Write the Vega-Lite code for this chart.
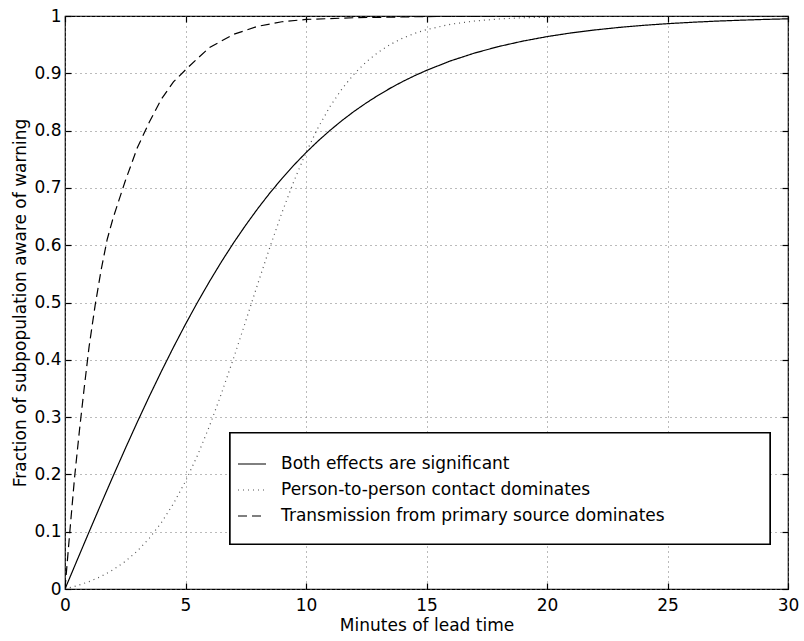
{
  "$schema": "https://vega.github.io/schema/vega-lite/v6.json",
  "autosize": "none",
  "width": 723,
  "height": 573,
  "padding": {"left": 65, "top": 16, "right": 16, "bottom": 52},
  "background": "white",
  "config": {
    "font": "DejaVu Sans",
    "view": {"stroke": "black", "strokeWidth": 1.2},
    "axis": {
      "labelFont": "DejaVu Sans", "labelFontSize": 17, "labelColor": "black",
      "titleFont": "DejaVu Sans", "titleFontSize": 17, "titleFontWeight": "normal", "titleColor": "black",
      "domain": false, "tickColor": "black", "tickSize": -6, "tickWidth": 1.2,
      "gridColor": "#777", "gridDash": [1, 4], "gridWidth": 1, "gridOpacity": 1
    },
    "legend": {
      "labelFont": "DejaVu Sans", "labelFontSize": 17, "labelColor": "black", "labelLimit": 0
    }
  },
  "datasets": {
    "curves": [
      {"t": 0, "y": 0, "s": "Both effects are significant"},
      {"t": 0.5, "y": 0.05, "s": "Both effects are significant"},
      {"t": 1, "y": 0.0997, "s": "Both effects are significant"},
      {"t": 1.5, "y": 0.1489, "s": "Both effects are significant"},
      {"t": 2, "y": 0.1974, "s": "Both effects are significant"},
      {"t": 2.5, "y": 0.2449, "s": "Both effects are significant"},
      {"t": 3, "y": 0.2913, "s": "Both effects are significant"},
      {"t": 3.5, "y": 0.3364, "s": "Both effects are significant"},
      {"t": 4, "y": 0.3799, "s": "Both effects are significant"},
      {"t": 4.5, "y": 0.4219, "s": "Both effects are significant"},
      {"t": 5, "y": 0.4621, "s": "Both effects are significant"},
      {"t": 5.5, "y": 0.5005, "s": "Both effects are significant"},
      {"t": 6, "y": 0.537, "s": "Both effects are significant"},
      {"t": 6.5, "y": 0.5717, "s": "Both effects are significant"},
      {"t": 7, "y": 0.6044, "s": "Both effects are significant"},
      {"t": 7.5, "y": 0.6351, "s": "Both effects are significant"},
      {"t": 8, "y": 0.664, "s": "Both effects are significant"},
      {"t": 8.5, "y": 0.6911, "s": "Both effects are significant"},
      {"t": 9, "y": 0.7163, "s": "Both effects are significant"},
      {"t": 9.5, "y": 0.7398, "s": "Both effects are significant"},
      {"t": 10, "y": 0.7616, "s": "Both effects are significant"},
      {"t": 10.5, "y": 0.7818, "s": "Both effects are significant"},
      {"t": 11, "y": 0.8005, "s": "Both effects are significant"},
      {"t": 11.5, "y": 0.8178, "s": "Both effects are significant"},
      {"t": 12, "y": 0.8337, "s": "Both effects are significant"},
      {"t": 12.5, "y": 0.8483, "s": "Both effects are significant"},
      {"t": 13, "y": 0.8617, "s": "Both effects are significant"},
      {"t": 13.5, "y": 0.8741, "s": "Both effects are significant"},
      {"t": 14, "y": 0.8854, "s": "Both effects are significant"},
      {"t": 14.5, "y": 0.8957, "s": "Both effects are significant"},
      {"t": 15, "y": 0.9051, "s": "Both effects are significant"},
      {"t": 16, "y": 0.9217, "s": "Both effects are significant"},
      {"t": 17, "y": 0.9354, "s": "Both effects are significant"},
      {"t": 18, "y": 0.9468, "s": "Both effects are significant"},
      {"t": 19, "y": 0.9562, "s": "Both effects are significant"},
      {"t": 20, "y": 0.964, "s": "Both effects are significant"},
      {"t": 21, "y": 0.9705, "s": "Both effects are significant"},
      {"t": 22, "y": 0.9757, "s": "Both effects are significant"},
      {"t": 23, "y": 0.9801, "s": "Both effects are significant"},
      {"t": 24, "y": 0.9837, "s": "Both effects are significant"},
      {"t": 25, "y": 0.9866, "s": "Both effects are significant"},
      {"t": 26, "y": 0.989, "s": "Both effects are significant"},
      {"t": 27, "y": 0.991, "s": "Both effects are significant"},
      {"t": 28, "y": 0.9926, "s": "Both effects are significant"},
      {"t": 29, "y": 0.994, "s": "Both effects are significant"},
      {"t": 30, "y": 0.9951, "s": "Both effects are significant"},

      {"t": 0, "y": 0, "s": "Person-to-person contact dominates"},
      {"t": 0.5, "y": 0.0057, "s": "Person-to-person contact dominates"},
      {"t": 1, "y": 0.0129, "s": "Person-to-person contact dominates"},
      {"t": 1.5, "y": 0.022, "s": "Person-to-person contact dominates"},
      {"t": 2, "y": 0.0336, "s": "Person-to-person contact dominates"},
      {"t": 2.5, "y": 0.0481, "s": "Person-to-person contact dominates"},
      {"t": 3, "y": 0.0662, "s": "Person-to-person contact dominates"},
      {"t": 3.5, "y": 0.0886, "s": "Person-to-person contact dominates"},
      {"t": 4, "y": 0.116, "s": "Person-to-person contact dominates"},
      {"t": 4.5, "y": 0.1489, "s": "Person-to-person contact dominates"},
      {"t": 5, "y": 0.188, "s": "Person-to-person contact dominates"},
      {"t": 5.5, "y": 0.2334, "s": "Person-to-person contact dominates"},
      {"t": 6, "y": 0.2849, "s": "Person-to-person contact dominates"},
      {"t": 6.5, "y": 0.3422, "s": "Person-to-person contact dominates"},
      {"t": 7, "y": 0.4036, "s": "Person-to-person contact dominates"},
      {"t": 7.5, "y": 0.4678, "s": "Person-to-person contact dominates"},
      {"t": 8, "y": 0.5327, "s": "Person-to-person contact dominates"},
      {"t": 8.5, "y": 0.5963, "s": "Person-to-person contact dominates"},
      {"t": 9, "y": 0.6566, "s": "Person-to-person contact dominates"},
      {"t": 9.5, "y": 0.712, "s": "Person-to-person contact dominates"},
      {"t": 10, "y": 0.7616, "s": "Person-to-person contact dominates"},
      {"t": 10.5, "y": 0.805, "s": "Person-to-person contact dominates"},
      {"t": 11, "y": 0.8422, "s": "Person-to-person contact dominates"},
      {"t": 11.5, "y": 0.8733, "s": "Person-to-person contact dominates"},
      {"t": 12, "y": 0.899, "s": "Person-to-person contact dominates"},
      {"t": 12.5, "y": 0.9199, "s": "Person-to-person contact dominates"},
      {"t": 13, "y": 0.9368, "s": "Person-to-person contact dominates"},
      {"t": 13.5, "y": 0.9504, "s": "Person-to-person contact dominates"},
      {"t": 14, "y": 0.9611, "s": "Person-to-person contact dominates"},
      {"t": 14.5, "y": 0.9696, "s": "Person-to-person contact dominates"},
      {"t": 15, "y": 0.9762, "s": "Person-to-person contact dominates"},
      {"t": 16, "y": 0.9856, "s": "Person-to-person contact dominates"},
      {"t": 17, "y": 0.9913, "s": "Person-to-person contact dominates"},
      {"t": 18, "y": 0.9948, "s": "Person-to-person contact dominates"},
      {"t": 19, "y": 0.9969, "s": "Person-to-person contact dominates"},
      {"t": 20, "y": 0.9981, "s": "Person-to-person contact dominates"},
      {"t": 22, "y": 0.9993, "s": "Person-to-person contact dominates"},
      {"t": 24, "y": 0.9998, "s": "Person-to-person contact dominates"},
      {"t": 26, "y": 0.9999, "s": "Person-to-person contact dominates"},
      {"t": 30, "y": 1, "s": "Person-to-person contact dominates"},

      {"t": 0, "y": 0, "s": "Transmission from primary source dominates"},
      {"t": 0.2, "y": 0.1, "s": "Transmission from primary source dominates"},
      {"t": 0.4, "y": 0.196, "s": "Transmission from primary source dominates"},
      {"t": 0.6, "y": 0.277, "s": "Transmission from primary source dominates"},
      {"t": 0.8, "y": 0.352, "s": "Transmission from primary source dominates"},
      {"t": 1, "y": 0.423, "s": "Transmission from primary source dominates"},
      {"t": 1.25, "y": 0.495, "s": "Transmission from primary source dominates"},
      {"t": 1.5, "y": 0.557, "s": "Transmission from primary source dominates"},
      {"t": 1.75, "y": 0.61, "s": "Transmission from primary source dominates"},
      {"t": 2, "y": 0.648, "s": "Transmission from primary source dominates"},
      {"t": 2.5, "y": 0.712, "s": "Transmission from primary source dominates"},
      {"t": 3, "y": 0.77, "s": "Transmission from primary source dominates"},
      {"t": 3.5, "y": 0.815, "s": "Transmission from primary source dominates"},
      {"t": 4, "y": 0.855, "s": "Transmission from primary source dominates"},
      {"t": 4.5, "y": 0.885, "s": "Transmission from primary source dominates"},
      {"t": 5, "y": 0.906, "s": "Transmission from primary source dominates"},
      {"t": 5.5, "y": 0.926, "s": "Transmission from primary source dominates"},
      {"t": 6, "y": 0.945, "s": "Transmission from primary source dominates"},
      {"t": 7, "y": 0.968, "s": "Transmission from primary source dominates"},
      {"t": 8, "y": 0.982, "s": "Transmission from primary source dominates"},
      {"t": 9, "y": 0.99, "s": "Transmission from primary source dominates"},
      {"t": 10, "y": 0.994, "s": "Transmission from primary source dominates"},
      {"t": 12, "y": 0.997, "s": "Transmission from primary source dominates"},
      {"t": 15, "y": 0.999, "s": "Transmission from primary source dominates"},
      {"t": 20, "y": 1, "s": "Transmission from primary source dominates"},
      {"t": 30, "y": 1, "s": "Transmission from primary source dominates"}
    ]
  },
  "data": {"name": "curves"},
  "layer": [
    {
      "mark": {"type": "line", "strokeWidth": 1.2, "clip": true},
      "encoding": {
        "x": {
          "field": "t", "type": "quantitative",
          "scale": {"domain": [0, 30], "nice": false, "zero": false},
          "axis": {
            "orient": "bottom", "title": "Minutes of lead time",
            "values": [0, 5, 10, 15, 20, 25, 30],
            "labelPadding": 14, "titlePadding": 4, "labelFlush": false
          }
        },
        "y": {
          "field": "y", "type": "quantitative",
          "scale": {"domain": [0, 1], "nice": false, "zero": false},
          "axis": {
            "orient": "left", "title": "Fraction of subpopulation aware of warning",
            "values": [0, 0.1, 0.2, 0.3, 0.4, 0.5, 0.6, 0.7, 0.8, 0.9, 1],
            "format": "~g", "labelPadding": 10, "titlePadding": 4, "labelFlush": false
          }
        },
        "color": {
          "field": "s", "type": "nominal",
          "sort": ["Both effects are significant", "Person-to-person contact dominates", "Transmission from primary source dominates"],
          "scale": {
            "domain": ["Both effects are significant", "Person-to-person contact dominates", "Transmission from primary source dominates"],
            "range": ["black", "#555555", "black"]
          },
          "legend": {
            "title": null, "orient": "none", "legendX": 165, "legendY": 418,
            "padding": 15,
            "symbolType": "stroke", "symbolSize": 784, "symbolStrokeWidth": 1.2,
            "symbolOffset": -8, "labelOffset": 14, "rowPadding": 3, "labelLimit": 0
          }
        },
        "strokeDash": {
          "field": "s", "type": "nominal",
          "sort": ["Both effects are significant", "Person-to-person contact dominates", "Transmission from primary source dominates"],
          "scale": {
            "domain": ["Both effects are significant", "Person-to-person contact dominates", "Transmission from primary source dominates"],
            "range": [[1, 0], [1, 4], [9, 5]]
          },
          "legend": {
            "title": null, "orient": "none", "legendX": 165, "legendY": 418,
            "padding": 15,
            "symbolType": "stroke", "symbolSize": 784, "symbolStrokeWidth": 1.2,
            "symbolOffset": -8, "labelOffset": 14, "rowPadding": 3, "labelLimit": 0
          }
        }
      }
    },
    {
      "mark": {"type": "point", "opacity": 0},
      "encoding": {
        "x": {
          "field": "t", "type": "quantitative",
          "axis": {"orient": "top", "title": null, "labels": false, "grid": false, "values": [0, 5, 10, 15, 20, 25, 30]}
        },
        "y": {
          "field": "y", "type": "quantitative",
          "axis": {"orient": "right", "title": null, "labels": false, "grid": false, "values": [0, 0.1, 0.2, 0.3, 0.4, 0.5, 0.6, 0.7, 0.8, 0.9, 1]}
        }
      }
    },
    {
      "description": "Framed white panel behind the legend entries",
      "mark": {"type": "rect", "fill": "white", "stroke": "black", "strokeWidth": 1.2},
      "encoding": {
        "x": {"datum": 6.85, "type": "quantitative", "axis": null},
        "x2": {"datum": 29.25},
        "y": {"datum": 0.2723, "type": "quantitative", "axis": null},
        "y2": {"datum": 0.0785}
      }
    }
  ],
  "resolve": {"axis": {"x": "independent", "y": "independent"}}
}
